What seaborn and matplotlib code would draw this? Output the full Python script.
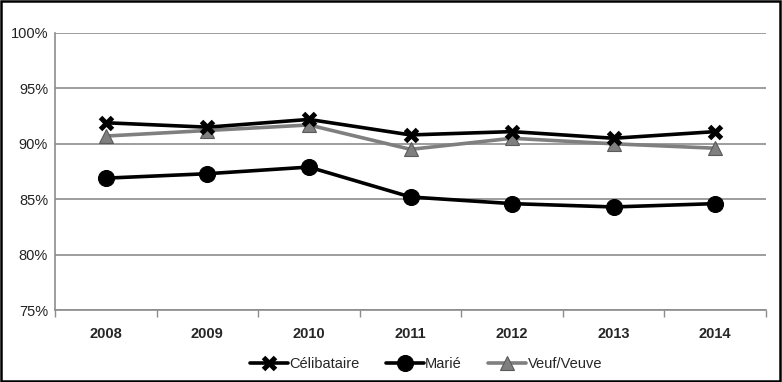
import matplotlib
matplotlib.use("Agg")
import matplotlib.pyplot as plt
import seaborn as sns
import pandas as pd
from matplotlib.patches import Rectangle
from matplotlib.ticker import FuncFormatter

years = ["2008", "2009", "2010", "2011", "2012", "2013", "2014"]
celibataire = [91.9, 91.5, 92.2, 90.8, 91.1, 90.5, 91.1]
marie = [86.9, 87.3, 87.9, 85.2, 84.6, 84.3, 84.6]
veuf = [90.7, 91.2, 91.7, 89.5, 90.5, 90.0, 89.6]
series_names = ["Célibataire", "Marié", "Veuf/Veuve"]
yticks = [75, 80, 85, 90, 95, 100]

rows = []
for name, vals in zip(series_names, [celibataire, marie, veuf]):
    for i, (yr, v) in enumerate(zip(years, vals)):
        rows.append({"idx": i, "year": yr, "value": v, "series": name})
df = pd.DataFrame(rows)

sns.set_style("white")
plt.rcParams['font.family'] = ['Liberation Sans Narrow', 'Liberation Sans', 'DejaVu Sans']

fig = plt.figure(figsize=(7.82, 3.82), dpi=100)
ax = fig.add_axes([55/782, 1-310/382, (766-55)/782, (310-33)/382])

palette = {"Célibataire": "black", "Marié": "black", "Veuf/Veuve": "#7f7f7f"}
markers = {"Célibataire": "X", "Marié": "o", "Veuf/Veuve": "^"}
sns.lineplot(data=df, x="idx", y="value", hue="series", style="series",
             hue_order=series_names, style_order=series_names,
             palette=palette, markers=markers, dashes=False,
             linewidth=2.6, markersize=11, ax=ax, legend=True)


def style_line(line):
    c = matplotlib.colors.to_hex(line.get_color())
    m = line.get_marker()
    line.set_linewidth(2.6)
    if c == "#7f7f7f":
        line.set_markerfacecolor("#7f7f7f")
        line.set_markeredgecolor("#5a5a5a")
        line.set_markeredgewidth(0.8)
        line.set_markersize(10)
        line.set_zorder(2)
    elif m in ("X", "x"):
        line.set_marker("x")
        line.set_markeredgecolor("black")
        line.set_markeredgewidth(3.6)
        line.set_markersize(9)
        line.set_zorder(3)
    else:
        line.set_markerfacecolor("black")
        line.set_markeredgecolor("black")
        line.set_markeredgewidth(0.8)
        line.set_markersize(11.5)
        line.set_zorder(3)


for line in ax.lines:
    style_line(line)

ax.set_xlim(-0.5, 6.5)
ax.set_ylim(75, 100)
ax.set_yticks(yticks)
ax.yaxis.set_major_formatter(FuncFormatter(lambda v, p: f"{int(v)}%"))
ax.set_xticks(range(len(years)))
ax.set_xticklabels(years, fontweight="bold", fontsize=10.5)
ax.set_xticks([i - 0.5 for i in range(len(years) + 1)], minor=True)
ax.tick_params(axis="x", which="major", length=0, pad=12)
ax.tick_params(axis="x", which="minor", length=5, width=1, color="#8c8c8c", direction="out", bottom=True)
ax.tick_params(axis="y", length=0, labelsize=10.5, pad=5, labelcolor="#222222")
ax.grid(axis="y", color="#8c8c8c", linewidth=1.2)
ax.set_axisbelow(True)
for s in ["top", "right"]:
    ax.spines[s].set_visible(False)
for s in ["left", "bottom"]:
    ax.spines[s].set_color("#8c8c8c")
    ax.spines[s].set_linewidth(1.2)
ax.set_xlabel("")
ax.set_ylabel("")

handles, labels = ax.get_legend_handles_labels()
ax.get_legend().remove()
for h in handles:
    style_line(h)
fig.legend(handles, labels, loc="center", bbox_to_anchor=(426/782, 1-364/382),
           ncol=3, frameon=False, fontsize=10.5, handlelength=2.6,
           handletextpad=0.1, columnspacing=1.8, markerscale=1.0)

fig.patches.append(Rectangle((0.001, 0.002), 0.996, 0.995, transform=fig.transFigure,
                             fill=False, edgecolor="black", linewidth=1.8))

fig.savefig("out.png", dpi=100)
